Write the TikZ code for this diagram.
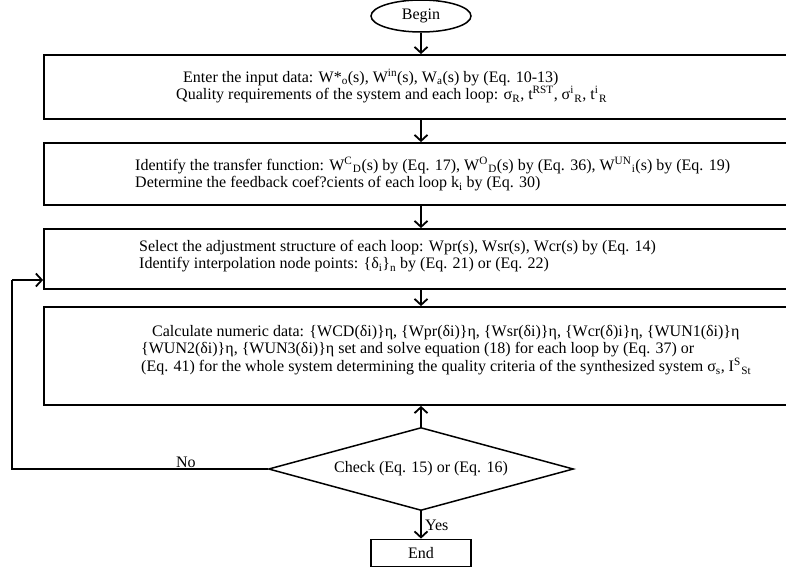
\documentclass[tikz,border=0pt]{standalone}
\usepackage{fontspec}
\setmainfont{Liberation Serif}
\usetikzlibrary{arrows.meta,shapes.geometric}
\newcommand\sbs[1]{\textsubscript{#1}}
\newcommand\sps[1]{\textsuperscript{#1}}
\newcommand\spsb[2]{\textsuperscript{#1}\kern0.5pt\textsubscript{#2}}
\begin{document}
\begin{tikzpicture}[x=1pt,y=-1pt,
  font=\fontsize{16}{17.6}\selectfont,
  box/.style={draw, line width=1.8pt, minimum width=754pt, minimum height=#1, inner sep=0pt},
  txt/.style={anchor=west, align=left, inner sep=0pt},
  arr/.style={line width=1.5pt, -{Straight Barb[length=6pt,width=13pt,line width=1.8pt]}},
  conn/.style={line width=1.5pt}]
\useasboundingbox (0,0) rectangle (786,568);
% begin
\node[ellipse, draw, line width=1.5pt, minimum width=100pt, minimum height=32pt, inner sep=0pt] (begin) at (421,16) {Begin};
% boxes
\node[box=64pt] (b1) at (421,87) {};
\node[txt] (t1) at (176,86) {\hspace*{7pt}Enter the input data: W*\sbs{o}(s), W\sps{in}(s), W\sbs{a}(s) by (Eq. 10-13)\\
Quality requirements of the system and each loop: σ\sbs{R}, t\sps{RST}, σ\spsb{i}{R}, t\spsb{i}{R}};
\node[box=62pt] (b2) at (421,174) {};
\node[txt] (t2) at (135,174) {Identify the transfer function: W\spsb{C}{D}(s) by (Eq. 17), W\spsb{O}{D}(s) by (Eq. 36), W\spsb{UN}{i}(s) by (Eq. 19)\\
Determine the feedback coef?cients of each loop k\sbs{i} by (Eq. 30)};
\node[box=60pt] (b3) at (421,259) {};
\node[txt] (t3) at (139,256) {Select the adjustment structure of each loop: Wpr(s), Wsr(s), Wcr(s) by (Eq. 14)\\
Identify interpolation node points: \{δ\sbs{i}\}\sbs{n} by (Eq. 21) or (Eq. 22)};
\node[box=98pt] (b4) at (421,356) {};
\node[txt] (t4) at (141,350) {\hspace*{11pt}Calculate numeric data: \{WCD(δi)\}η, \{Wpr(δi)\}η, \{Wsr(δi)\}η, \{Wcr(δ)i\}η, \{WUN1(δi)\}η\\
\{WUN2(δi)\}η, \{WUN3(δi)\}η set and solve equation (18) for each loop by (Eq. 37) or\\
(Eq. 41) for the whole system determining the quality criteria of the synthesized system σ\sbs{s}, I\spsb{S}{St}};
% decision
\node[diamond, draw, line width=1.5pt, aspect=3.67, minimum width=305pt, minimum height=83pt, inner sep=0pt] (dia) at (421,469) {Check (Eq. 15) or (Eq. 16)};
\node[draw, line width=1.8pt, minimum width=100pt, minimum height=27pt, inner sep=0pt] (end) at (421,553) {End};
% connectors
\draw[arr] (begin) -- (b1);
\draw[arr] (b1) -- (b2);
\draw[arr] (b2) -- (b3);
\draw[arr] (b3) -- (b4);
\draw[arr] (dia.north) -- (b4.south);
\draw[arr] (dia.south) -- node[right, name=yes]{Yes} (end);
\coordinate (c1) at (12,469);
\coordinate (c2) at (12,280);
\draw[conn] (dia.west) -- node[pos=0.32, above, inner sep=1pt, name=no]{No} (c1) -- (c2);
\draw[arr] (c2) -- (b3.west |- c2);
\end{tikzpicture}
\end{document}
